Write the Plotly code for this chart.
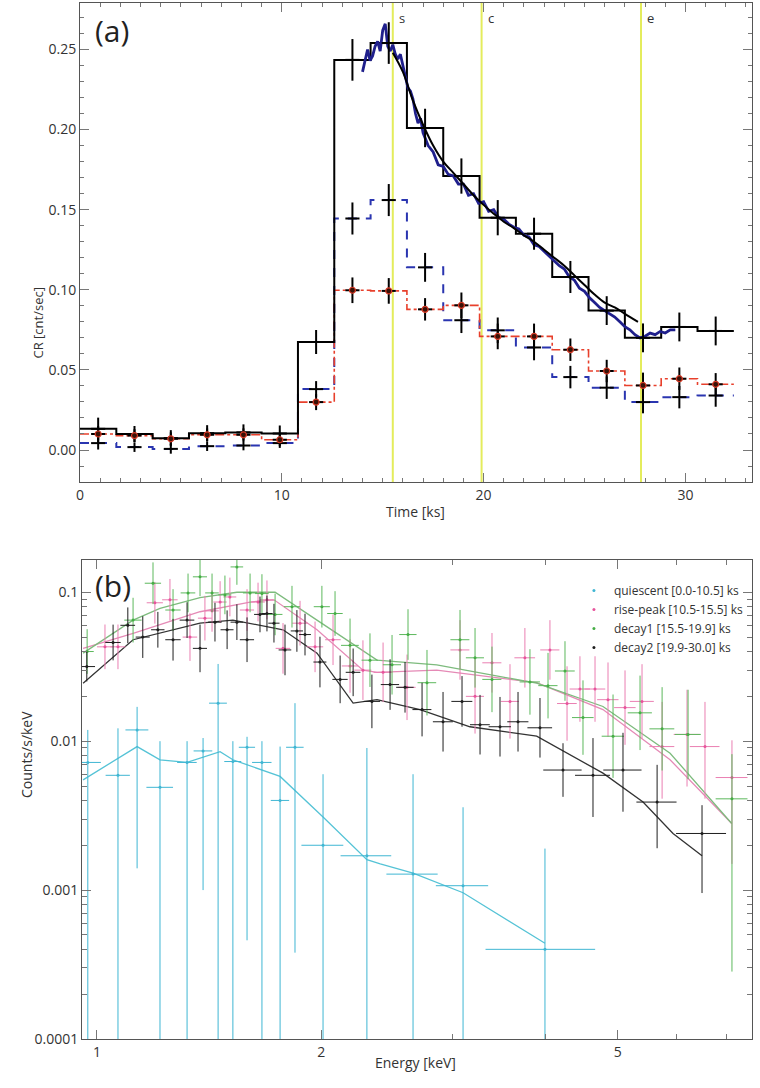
import plotly.graph_objects as go

# ---------------- Panel (a): light curve ----------------
bin_edges = [0.0, 1.8, 3.6, 5.4, 7.2, 9.0, 10.8, 12.6, 14.4, 16.2, 18.0, 19.8,
             21.6, 23.4, 25.2, 27.0, 28.8, 30.6, 32.4]
bin_centers = [0.9, 2.7, 4.5, 6.3, 8.1, 9.9, 11.7, 13.5, 15.3, 17.1, 18.9, 20.7,
               22.5, 24.3, 26.1, 27.9, 29.7, 31.5]
cr_total = [0.0132, 0.0100, 0.0074, 0.0105, 0.0110, 0.0103, 0.0674, 0.2435, 0.2540,
            0.2010, 0.1710, 0.1450, 0.1350, 0.1080, 0.0870, 0.0700, 0.0768, 0.0743]
cr_total_err = [0.007, 0.005, 0.005, 0.005, 0.005, 0.005, 0.0075, 0.013, 0.013, 0.012,
                0.011, 0.011, 0.010, 0.010, 0.009, 0.009, 0.009, 0.009]
cr_hard = [0.0043, 0.0018, 0.0007, 0.0024, 0.0028, 0.0043, 0.0380, 0.1445, 0.1560,
           0.1140, 0.0810, 0.0747, 0.0640, 0.0455, 0.0389, 0.0299, 0.0330, 0.0340]
cr_hard_err = [0.004, 0.003, 0.003, 0.003, 0.003, 0.003, 0.005, 0.010, 0.010, 0.009,
               0.008, 0.008, 0.008, 0.007, 0.007, 0.007, 0.007, 0.007]
cr_soft = [0.0100, 0.0090, 0.0070, 0.0095, 0.0095, 0.0064, 0.0299, 0.0997, 0.0993,
           0.0878, 0.0903, 0.0709, 0.0709, 0.0626, 0.0493, 0.0403, 0.0445, 0.0410]
cr_soft_err = [0.005, 0.004, 0.004, 0.004, 0.004, 0.004, 0.005, 0.008, 0.008, 0.007,
               0.008, 0.008, 0.008, 0.007, 0.007, 0.008, 0.007, 0.007]

# fine-binned light curve
fine_t = [14.00, 14.125, 14.25, 14.375, 14.50, 14.625, 14.75, 14.875, 15.00, 15.125,
          15.25, 15.375, 15.50, 15.625, 15.75, 15.875, 16.00, 16.125, 16.25, 16.375,
          16.50, 16.625, 16.75, 16.875, 17.00, 17.25, 17.50, 17.75, 18.00, 18.25, 18.50,
          18.75, 19.00, 19.25, 19.50, 19.75, 20.00, 20.25, 20.50, 20.75, 21.00, 21.25,
          21.50, 21.75, 22.00, 22.25, 22.50, 22.75, 23.00, 23.25, 23.50, 23.75, 24.00,
          24.25, 24.50, 24.75, 25.00, 25.25, 25.50, 25.75, 26.00, 26.25, 26.50, 26.75,
          27.00, 27.25, 27.50, 27.75, 28.00, 28.25, 28.50, 28.75, 29.00, 29.25, 29.50]
fine_cr = [0.236, 0.244, 0.250, 0.243, 0.246, 0.252, 0.255, 0.249, 0.262, 0.266,
           0.252, 0.249, 0.253, 0.247, 0.244, 0.247, 0.240, 0.232, 0.226, 0.224,
           0.219, 0.210, 0.204, 0.207, 0.198, 0.190, 0.186, 0.178, 0.177, 0.172, 0.171,
           0.166, 0.166, 0.159, 0.160, 0.154, 0.155, 0.149, 0.150, 0.145, 0.144, 0.141,
           0.139, 0.138, 0.134, 0.133, 0.128, 0.127, 0.124, 0.121, 0.118, 0.115, 0.113,
           0.108, 0.106, 0.101, 0.099, 0.095, 0.092, 0.089, 0.087, 0.085, 0.083, 0.080,
           0.077, 0.075, 0.072, 0.070, 0.071, 0.073, 0.072, 0.074, 0.073, 0.075, 0.075]

# decay model
decay_t = [15.5, 16.0, 16.5, 17.0, 17.5, 18.0, 18.5, 19.0, 19.5, 20.0, 20.5, 21.0, 21.5,
           22.0, 22.5, 23.0, 23.5, 24.0, 24.5, 25.0, 25.5, 26.0, 26.5, 27.0, 27.65]
decay_cr = [0.248, 0.236, 0.218, 0.203, 0.190, 0.180, 0.173, 0.166, 0.159, 0.153, 0.1475,
            0.1425, 0.1385, 0.134, 0.130, 0.125, 0.120, 0.115, 0.109, 0.103, 0.097, 0.092,
            0.089, 0.085, 0.080]

marker_times = [15.5, 19.9, 27.8]
marker_labels = ["s", "c", "e"]

# ---------------- Panel (b): spectra ----------------
q_E = [0.972, 1.067, 1.132, 1.215, 1.321, 1.388, 1.454, 1.522, 1.590, 1.665, 1.761,
       1.844, 2.011, 2.303, 2.656, 3.100, 3.993]
q_v = [0.0072, 0.0059, 0.0119, 0.0049, 0.0072, 0.0086, 0.018, 0.0073, 0.0091, 0.0072,
       0.0040, 0.0091, 0.0020, 0.0017, 0.00128, 0.00107, 0.0004]
q_hi = [0.0119, 0.0122, 0.017, 0.010, 0.010, 0.0105, 0.033, 0.010, 0.0107, 0.010,
        0.0092, 0.018, 0.006, 0.009, 0.006, 0.0036, 0.0019]
q_lo = [0.00001, 0.00001, 0.0014, 0.00001, 0.00001, 0.001, 0.00001, 0.00001, 0.00046,
        0.00001, 0.00001, 0.00038, 0.00001, 0.00001, 0.00001, 0.00001, 0.00001]
q_xerr = [0.04, 0.04, 0.04, 0.05, 0.04, 0.04, 0.04, 0.04, 0.04, 0.05, 0.05, 0.05,
          0.13, 0.18, 0.21, 0.25, 0.67]

r_E = [1.025, 1.067, 1.196, 1.253, 1.333, 1.396, 1.427, 1.463, 1.508, 1.590, 1.645,
       1.691, 1.777, 1.873, 1.962, 2.074, 2.186, 2.275, 2.421, 2.607, 3.071, 3.217,
       3.390, 3.584, 3.753, 4.055, 4.275, 4.449, 4.661, 4.852, 5.114, 5.390, 5.735,
       6.194, 6.548, 7.117]
r_v = [0.043, 0.043, 0.085, 0.089, 0.050, 0.067, 0.075, 0.086, 0.093, 0.076, 0.086,
       0.089, 0.042, 0.062, 0.043, 0.048, 0.032, 0.030, 0.029, 0.023, 0.041, 0.020,
       0.0336, 0.0185, 0.0363, 0.041, 0.0179, 0.0224, 0.0224, 0.019, 0.0168, 0.0185,
       0.0092, 0.0111, 0.0092, 0.0057]
r_up_dex = [0.15, 0.15, 0.14, 0.14, 0.16, 0.15, 0.14, 0.14, 0.13, 0.14, 0.13, 0.13,
            0.17, 0.15, 0.17, 0.17, 0.18, 0.2, 0.2, 0.22, 0.2, 0.25, 0.2, 0.25, 0.2,
            0.2, 0.25, 0.22, 0.22, 0.25, 0.25, 0.25, 0.3, 0.3, 0.3, 0.25]
r_dn_dex = [0.15, 0.15, 0.14, 0.14, 0.16, 0.15, 0.14, 0.14, 0.13, 0.14, 0.13, 0.13,
            0.17, 0.15, 0.17, 0.17, 0.18, 0.2, 0.2, 0.22, 0.2, 0.25, 0.2, 0.25, 0.2,
            0.2, 0.25, 0.22, 0.22, 0.25, 0.25, 0.25, 0.35, 0.35, 0.35, 0.58]
r_xerr = [0.025, 0.025, 0.03, 0.03, 0.03, 0.03, 0.03, 0.03, 0.03, 0.035, 0.035, 0.035,
          0.04, 0.045, 0.05, 0.05, 0.055, 0.06, 0.07, 0.07, 0.09, 0.09, 0.1, 0.1, 0.12,
          0.12, 0.13, 0.14, 0.15, 0.16, 0.17, 0.2, 0.22, 0.25, 0.3, 0.35]

g_E = [0.970, 1.118, 1.189, 1.265, 1.325, 1.375, 1.427, 1.485, 1.541, 1.605, 1.665,
       1.734, 1.827, 2.004, 2.087, 2.186, 2.325, 2.489, 2.615, 2.773, 3.071, 3.217,
       3.390, 3.812, 4.031, 4.248, 4.491, 4.928, 5.357, 5.735, 6.214, 7.117]
g_v = [0.040, 0.065, 0.115, 0.076, 0.099, 0.127, 0.099, 0.096, 0.148, 0.099, 0.098,
       0.071, 0.080, 0.080, 0.072, 0.044, 0.035, 0.0326, 0.052, 0.0247, 0.048, 0.0363,
       0.026, 0.025, 0.0236, 0.0296, 0.0144, 0.0108, 0.0155, 0.0121, 0.0111, 0.0041]
g_up_dex = [0.15, 0.15, 0.14, 0.14, 0.13, 0.13, 0.13, 0.13, 0.12, 0.13, 0.13, 0.14,
            0.14, 0.14, 0.15, 0.18, 0.18, 0.2, 0.17, 0.22, 0.2, 0.2, 0.22, 0.22, 0.22,
            0.2, 0.25, 0.28, 0.25, 0.28, 0.3, 0.3]
g_dn_dex = [0.15, 0.15, 0.14, 0.14, 0.13, 0.13, 0.13, 0.13, 0.12, 0.13, 0.13, 0.14,
            0.14, 0.14, 0.15, 0.18, 0.18, 0.2, 0.17, 0.22, 0.2, 0.2, 0.22, 0.22, 0.22,
            0.2, 0.25, 0.28, 0.25, 0.28, 0.3, 1.16]
g_xerr = [0.02, 0.03, 0.03, 0.03, 0.03, 0.03, 0.03, 0.03, 0.03, 0.035, 0.035, 0.04,
          0.045, 0.05, 0.05, 0.06, 0.06, 0.07, 0.07, 0.08, 0.09, 0.09, 0.1, 0.12, 0.12,
          0.13, 0.15, 0.17, 0.2, 0.22, 0.25, 0.35]

k_E = [0.969, 1.051, 1.100, 1.152, 1.207, 1.265, 1.321, 1.375, 1.440, 1.495, 1.541,
       1.590, 1.655, 1.691, 1.728, 1.788, 1.855, 1.902, 1.992, 2.120, 2.207, 2.339,
       2.474, 2.591, 2.731, 2.914, 3.090, 3.267, 3.475, 3.674, 3.932, 4.222, 4.632,
       5.082, 5.647, 6.488]
k_v = [0.0317, 0.046, 0.060, 0.050, 0.056, 0.048, 0.065, 0.042, 0.063, 0.056, 0.063,
       0.048, 0.071, 0.072, 0.062, 0.041, 0.055, 0.052, 0.034, 0.026, 0.029, 0.0185,
       0.024, 0.023, 0.0163, 0.0135, 0.0185, 0.0129, 0.0125, 0.0135, 0.0123, 0.0064,
       0.0059, 0.0064, 0.0039, 0.0024]
k_up_dex = [0.10, 0.12, 0.12, 0.14, 0.12, 0.14, 0.12, 0.16, 0.13, 0.13, 0.12, 0.15,
            0.12, 0.12, 0.13, 0.17, 0.14, 0.14, 0.17, 0.16, 0.16, 0.18, 0.17, 0.17,
            0.18, 0.2, 0.17, 0.2, 0.2, 0.2, 0.2, 0.18, 0.25, 0.25, 0.25, 0.19]
k_dn_dex = [0.10, 0.12, 0.12, 0.14, 0.12, 0.14, 0.12, 0.16, 0.13, 0.13, 0.12, 0.15,
            0.12, 0.12, 0.13, 0.17, 0.14, 0.14, 0.17, 0.16, 0.16, 0.18, 0.17, 0.17,
            0.18, 0.2, 0.17, 0.2, 0.2, 0.2, 0.2, 0.18, 0.28, 0.28, 0.31, 0.40]
k_xerr = [0.025, 0.025, 0.025, 0.025, 0.025, 0.03, 0.03, 0.03, 0.03, 0.03, 0.03, 0.035,
          0.03, 0.03, 0.03, 0.035, 0.035, 0.035, 0.04, 0.05, 0.05, 0.06, 0.07, 0.07,
          0.08, 0.09, 0.1, 0.1, 0.12, 0.12, 0.15, 0.25, 0.25, 0.3, 0.35, 0.5]

# model curves
qm_E = [0.958, 1.132, 1.215, 1.321, 1.463, 1.522, 1.761, 2.011, 2.303, 2.40, 2.656, 3.100, 3.993]
qm_v = [0.0055, 0.0092, 0.0075, 0.0072, 0.0085, 0.0075, 0.0058, 0.0031, 0.0016, 0.0015,
        0.0013, 0.00096, 0.00044]
rm_E = [0.958, 1.118, 1.375, 1.605, 1.728, 1.974, 2.275, 2.376, 2.858, 3.892, 4.777, 5.878, 7.112]
rm_v = [0.042, 0.053, 0.074, 0.086, 0.089, 0.056, 0.030, 0.029, 0.030, 0.0247, 0.0163,
        0.0075, 0.0028]
gm_E = [0.958, 1.118, 1.215, 1.375, 1.541, 1.734, 1.992, 2.376, 2.858, 3.892, 4.777, 5.878, 7.112]
gm_v = [0.039, 0.065, 0.078, 0.092, 0.100, 0.100, 0.063, 0.035, 0.0325, 0.0245, 0.0171,
        0.0083, 0.0028]
km_E = [0.958, 1.118, 1.375, 1.522, 1.777, 1.974, 2.207, 2.376, 2.714, 3.167, 3.892,
        4.777, 5.407, 5.932, 6.488]
km_v = [0.0245, 0.048, 0.062, 0.065, 0.056, 0.039, 0.018, 0.019, 0.0163, 0.0125, 0.0108,
        0.0061, 0.0039, 0.0024, 0.0017]

series_names = ["quiescent [0.0-10.5] ks", "rise-peak [10.5-15.5] ks",
                "decay1 [15.5-19.9] ks", "decay2 [19.9-30.0] ks"]

FONT = "Open Sans"
C_Q = "#3fb6d3"
C_R = "#e7549c"
C_G = "#45ad45"
C_K = "#1e1e1e"

fig = go.Figure()

# ---- panel (a) traces ----
def step(vals):
    return list(vals) + [vals[-1]]

fig.add_trace(go.Scatter(x=bin_edges, y=step(cr_hard), mode="lines", line_shape="hv",
                         line=dict(color="#2a35b0", width=2, dash="dash"),
                         showlegend=False, xaxis="x", yaxis="y"))
fig.add_trace(go.Scatter(x=bin_edges, y=step(cr_soft), mode="lines", line_shape="hv",
                         line=dict(color="#e8402c", width=1.6, dash="dashdot"),
                         showlegend=False, xaxis="x", yaxis="y"))
fig.add_trace(go.Scatter(x=bin_edges, y=step(cr_total), mode="lines", line_shape="hv",
                         line=dict(color="black", width=2),
                         showlegend=False, xaxis="x", yaxis="y"))
fig.add_trace(go.Scatter(x=fine_t, y=fine_cr, mode="lines",
                         line=dict(color="#1f1f8c", width=2.8),
                         showlegend=False, xaxis="x", yaxis="y"))
fig.add_trace(go.Scatter(x=decay_t, y=decay_cr, mode="lines", line_shape="spline",
                         line=dict(color="black", width=2),
                         showlegend=False, xaxis="x", yaxis="y"))

for vals, errs, sym in [(cr_hard, cr_hard_err, None), (cr_total, cr_total_err, None),
                        (cr_soft, cr_soft_err, "circle")]:
    fig.add_trace(go.Scatter(
        x=bin_centers, y=vals, mode="markers",
        marker=dict(symbol=sym or "circle", size=6 if sym else 1,
                    color="#3a1208" if sym else "black",
                    line=dict(color="#d83a26", width=1.2) if sym else dict(width=0)),
        error_y=dict(type="data", array=errs, color="black", thickness=2, width=0),
        error_x=dict(type="constant", value=0.35, color="black", thickness=2, width=0),
        showlegend=False, xaxis="x", yaxis="y"))

shapes = []
annotations = []
for t, lab in zip(marker_times, marker_labels):
    shapes.append(dict(type="line", xref="x", yref="y domain", x0=t, x1=t, y0=0, y1=1,
                       line=dict(color="#e4ec5c", width=2), layer="below"))
    annotations.append(dict(x=t, y=1, xref="x", yref="y domain", text=lab,
                            showarrow=False, xanchor="left", yanchor="top",
                            xshift=4, yshift=-4, font=dict(family=FONT, size=13, color="#333")))

# ---- panel (b) traces ----
def dex_err(v, d):
    return [vi * (10 ** di - 1) for vi, di in zip(v, d)]

def dex_errm(v, d):
    return [vi * (1 - 10 ** (-di)) for vi, di in zip(v, d)]

fig.add_trace(go.Scatter(x=qm_E, y=qm_v, mode="lines", line=dict(color="#55c3d6", width=1.3),
                         showlegend=False, xaxis="x2", yaxis="y2"))
fig.add_trace(go.Scatter(x=rm_E, y=rm_v, mode="lines", line=dict(color="#e58ab6", width=1.3),
                         showlegend=False, xaxis="x2", yaxis="y2"))
fig.add_trace(go.Scatter(x=gm_E, y=gm_v, mode="lines", line=dict(color="#7dbb7d", width=1.3),
                         showlegend=False, xaxis="x2", yaxis="y2"))
fig.add_trace(go.Scatter(x=km_E, y=km_v, mode="lines", line=dict(color="#333333", width=1.3),
                         showlegend=False, xaxis="x2", yaxis="y2"))

fig.add_trace(go.Scatter(
    x=q_E, y=q_v, mode="markers", name=series_names[0],
    marker=dict(color=C_Q, size=3),
    error_y=dict(type="data", symmetric=False,
                 array=[h - v for h, v in zip(q_hi, q_v)],
                 arrayminus=[v - l for v, l in zip(q_v, q_lo)],
                 color=C_Q, thickness=1, width=0),
    error_x=dict(type="data", array=q_xerr, color=C_Q, thickness=1, width=0),
    xaxis="x2", yaxis="y2"))
fig.add_trace(go.Scatter(
    x=r_E, y=r_v, mode="markers", name=series_names[1],
    marker=dict(color=C_R, size=3),
    error_y=dict(type="data", symmetric=False, array=dex_err(r_v, r_up_dex),
                 arrayminus=dex_errm(r_v, r_dn_dex), color="#ea7fb2", thickness=1, width=0),
    error_x=dict(type="data", array=r_xerr, color="#ea7fb2", thickness=1, width=0),
    xaxis="x2", yaxis="y2"))
fig.add_trace(go.Scatter(
    x=g_E, y=g_v, mode="markers", name=series_names[2],
    marker=dict(color=C_G, size=3),
    error_y=dict(type="data", symmetric=False, array=dex_err(g_v, g_up_dex),
                 arrayminus=dex_errm(g_v, g_dn_dex), color="#5cb85c", thickness=1, width=0),
    error_x=dict(type="data", array=g_xerr, color="#5cb85c", thickness=1, width=0),
    xaxis="x2", yaxis="y2"))
fig.add_trace(go.Scatter(
    x=k_E, y=k_v, mode="markers", name=series_names[3],
    marker=dict(color=C_K, size=3),
    error_y=dict(type="data", symmetric=False, array=dex_err(k_v, k_up_dex),
                 arrayminus=dex_errm(k_v, k_dn_dex), color=C_K, thickness=1, width=0),
    error_x=dict(type="data", array=k_xerr, color=C_K, thickness=1, width=0),
    xaxis="x2", yaxis="y2"))

# panel labels and axis titles
annotations += [
    dict(text="(a)", x=0.02, y=0.995, xref="paper", yref="paper", xanchor="left",
         yanchor="top", showarrow=False, font=dict(family=FONT, size=30, color="#222")),
    dict(text="(b)", x=0.02, y=0.459, xref="paper", yref="paper", xanchor="left",
         yanchor="top", showarrow=False, font=dict(family=FONT, size=30, color="#222")),
    dict(text="CR [cnt/sec]", x=(26 - 80) / 672, y=(1039 - 285) / 1036, xref="paper",
         yref="paper", textangle=-90, showarrow=False,
         font=dict(family=FONT, size=13, color="#333")),
    dict(text="Time [ks]", x=(415 - 80) / 672, y=(1039 - 512) / 1036, xref="paper",
         yref="paper", showarrow=False, font=dict(family=FONT, size=14, color="#333")),
    dict(text="Counts/s/keV", x=(15 - 80) / 672, y=(1039 - 800) / 1036, xref="paper",
         yref="paper", textangle=-90, showarrow=False,
         font=dict(family=FONT, size=14, color="#333")),
    dict(text="Energy [keV]", x=(415 - 80) / 672, y=(1039 - 1074) / 1036, xref="paper",
         yref="paper", showarrow=False, font=dict(family=FONT, size=14, color="#333")),
]

axis_common = dict(showline=True, linecolor="#555", linewidth=1, mirror="ticks",
                   ticks="inside", ticklen=9, tickcolor="#777", tickwidth=1,
                   showgrid=False, zeroline=False,
                   tickfont=dict(family=FONT, size=14, color="#333"))

y2_minor = [m * 10 ** e for e in (-4, -3, -2, -1) for m in range(2, 10)]

fig.update_layout(
    width=760, height=1088,
    margin=dict(l=80, r=8, t=3, b=49),
    paper_bgcolor="white", plot_bgcolor="white",
    font=dict(family=FONT, color="#333"),
    showlegend=True,
    legend=dict(x=0.735, y=0.447, xanchor="left", yanchor="top",
                bgcolor="rgba(0,0,0,0)", font=dict(family=FONT, size=12, color="#333"),
                tracegroupgap=0, itemwidth=30),
    xaxis=dict(domain=[0, 1], anchor="y", range=[0, 33.3], tick0=0, dtick=10,
               minor=dict(dtick=1, ticklen=4, ticks="inside", tickcolor="#777"),
               **axis_common),
    yaxis=dict(domain=[0.5376, 1], anchor="x", range=[-0.02, 0.279], tick0=0, dtick=0.05,
               tickformat=".2f",
               minor=dict(dtick=0.01, ticklen=4, ticks="inside", tickcolor="#777"),
               **axis_common),
    xaxis2=dict(domain=[0.003, 1], anchor="y2", type="log", range=[-0.0201, 0.8792],
                tickmode="array", tickvals=[1, 2, 5], ticktext=["1", "2", "5"],
                minor=dict(tickmode="array", tickvals=[3, 4, 6, 7], ticklen=5,
                           ticks="inside", tickcolor="#777"),
                **axis_common),
    yaxis2=dict(domain=[0, 0.4624], anchor="x2", type="log", range=[-4, -0.783],
                tickmode="array", tickvals=[0.0001, 0.001, 0.01, 0.1],
                ticktext=["0.0001", "0.001", "0.01", "0.1"],
                minor=dict(tickmode="array", tickvals=y2_minor, ticklen=5,
                           ticks="inside", tickcolor="#777"),
                **axis_common),
    shapes=shapes,
    annotations=annotations,
)

fig.write_html("out.html")
